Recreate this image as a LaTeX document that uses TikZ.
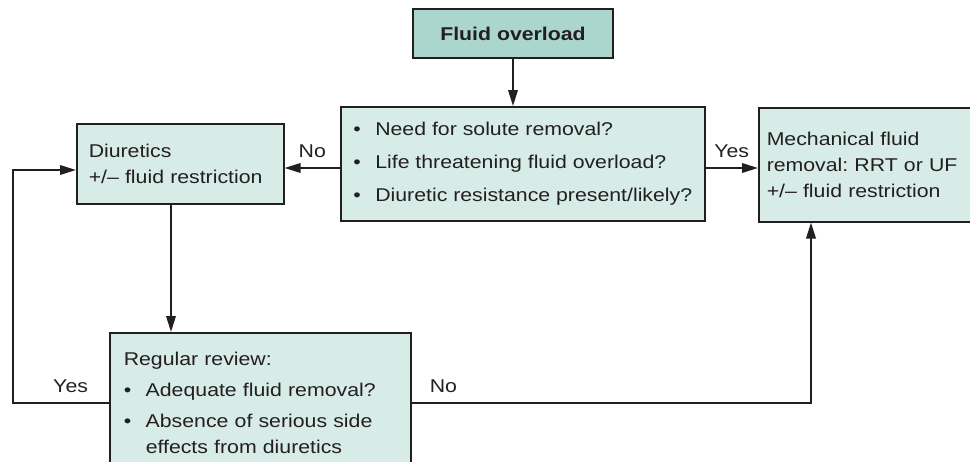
\documentclass[tikz,border=0pt]{standalone}
\usepackage{fontspec}
\setmainfont{Liberation Sans}[FakeStretch=1.15]
\usetikzlibrary{arrows.meta}
\definecolor{ink}{HTML}{231F20}
\definecolor{boxfill}{HTML}{D7EBE7}
\definecolor{headfill}{HTML}{AAD6CD}
\newcommand{\bitem}{\makebox[22pt][l]{\textbullet}}
\frenchspacing

\begin{document}
\begin{tikzpicture}[x=1pt,y=-1pt,>={Triangle[length=16pt,width=9.5pt]},
  line width=2pt,draw=ink,
  box/.style={draw=ink,line width=1.5pt,fill=boxfill,text=ink,anchor=north west,
    align=left,inner ysep=0pt,font=\fontsize{18.5}{26}\selectfont},
  headbox/.style={box,fill=headfill,anchor=center,align=center,
    font=\fontsize{18.5}{26}\selectfont\bfseries},
  lab/.style={text=ink,inner sep=0pt,above=9pt,font=\fontsize{18.5}{26}\selectfont}]
\useasboundingbox (0,0) rectangle (970,461);
% boxes
\node[headbox,minimum width=200pt,minimum height=49pt] (fo) at (513,33.5) {Fluid overload};
\node[box,minimum width=364pt,minimum height=114pt] (ask) at (340,106)
  {\bitem Need for solute removal?\\[7pt]
   \bitem Life threatening fluid overload?\\[7pt]
   \bitem Diuretic resistance present/likely?};
\node[box,minimum width=207pt,minimum height=80pt,inner xsep=12pt,text width=183pt] (diu) at (76,123)
  {Diuretics\\ +/-- fluid restriction};
\node[box,minimum width=214pt,minimum height=114pt,inner xsep=8pt,text width=198pt] (mech) at (758,107)
  {Mechanical fluid\\ removal: RRT or UF\\ +/-- fluid restriction};
\node[box,minimum width=301pt,minimum height=140pt,inner xsep=14pt,text width=273pt] (rev) at (109,332)
  {Regular review:\\[5pt]
   \bitem Adequate fluid removal?\\[5pt]
   \bitem Absence of serious side\\ \hspace*{22pt}effects from diuretics};
% helper coordinates
\coordinate (row) at (0,168);
\coordinate (back) at (0,170);
\coordinate (lft) at (13,0);
\coordinate (dn) at (171,0);
\coordinate (up) at (811,0);
% connectors
\draw[->] (fo.south) -- (fo.south |- ask.north);
\draw[->] (ask.west |- row) -- node[lab]{No} (diu.east |- row);
\draw[->] (ask.east |- row) -- node[lab]{Yes} (mech.west |- row);
\draw[->] (diu.south -| dn) -- (rev.north -| dn);
% review outcomes
\draw[->] (rev.west) -- node[lab,pos=0.4]{Yes} (lft |- rev.west) |- (diu.west |- back);
\draw[->] (rev.east) -- node[lab,pos=0.08]{No} (rev.east -| up) -- (mech.south -| up);
\end{tikzpicture}
\end{document}
